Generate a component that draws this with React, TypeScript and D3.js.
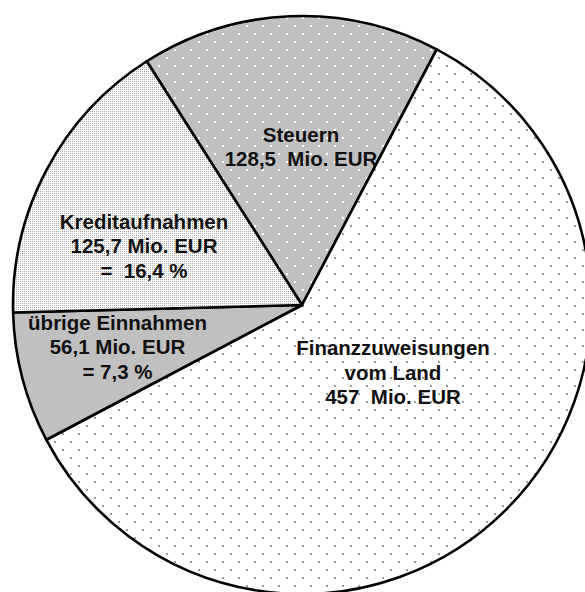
import React from 'react';
import * as d3 from 'd3';

// slices, clockwise starting from "Steuern"
const categories = ['Steuern', 'Finanzzuweisungen vom Land', 'übrige Einnahmen', 'Kreditaufnahmen'];
const values = [128.5, 457, 56.1, 125.7];
const labelLines = [
  ['Steuern', '128,5  Mio. EUR'],
  ['Finanzzuweisungen', 'vom Land', '457  Mio. EUR'],
  ['übrige Einnahmen', '56,1 Mio. EUR', '= 7,3 %'],
  ['Kreditaufnahmen', '125,7 Mio. EUR', '=  16,4 %'],
];

const width = 585;
const height = 592;
const cx = 302;
const cy = 305;
const radius = 289;
const lineHeight = 24.5;

// label anchor (text centre x, first baseline y) relative to the pie centre
const labelOffsets = [
  [-1, -163.5],
  [91, 50],
  [-184.5, 24.5],
  [-158, -76.5],
];

const fills = ['url(#pat-steuern)', 'url(#pat-land)', '#c0c0c0', 'url(#pat-kredit)'];

const App = () => {
  const start = (-32.5 * Math.PI) / 180;
  const pie = d3
    .pie<number>()
    .sort(null)
    .startAngle(start)
    .endAngle(start + 2 * Math.PI);
  const arcs = pie(values);
  const arc = d3.arc<d3.PieArcDatum<number>>().innerRadius(0).outerRadius(radius);

  return (
    <svg
      width={width}
      height={height}
      style={{ position: 'absolute', left: 0, top: 0, background: '#fff' }}
    >
      <defs>
        <pattern id="pat-steuern" width={16} height={16} patternUnits="userSpaceOnUse">
          <rect width={16} height={16} fill="#c0c0c0" />
          <rect x={0} y={0} width={2} height={2} fill="#fff" />
          <rect x={8} y={8} width={2} height={2} fill="#fff" />
        </pattern>
        <pattern id="pat-land" width={16} height={16} patternUnits="userSpaceOnUse">
          <rect width={16} height={16} fill="#fff" />
          <rect x={0} y={0} width={2} height={2} fill="#999" />
          <rect x={8} y={8} width={2} height={2} fill="#999" />
        </pattern>
        <pattern id="pat-kredit" width={2} height={2} patternUnits="userSpaceOnUse">
          <rect width={2} height={2} fill="#fff" />
          <rect x={0} y={0} width={1} height={1} fill="#a8a8a8" />
        </pattern>
      </defs>
      <g transform={`translate(${cx},${cy})`}>
        {arcs.map((d, i) => (
          <path
            key={categories[i]}
            d={arc(d) || ''}
            fill={fills[i]}
            stroke="#000"
            strokeWidth={2.6}
            strokeLinejoin="round"
          />
        ))}
        {labelLines.map((lines, i) => (
          <text
            key={'lbl' + i}
            x={labelOffsets[i][0]}
            y={labelOffsets[i][1]}
            textAnchor="middle"
            fontFamily="'Liberation Sans', Arial, sans-serif"
            fontWeight="bold"
            fontSize={20.5}
            fill="#111"
            style={{ whiteSpace: 'pre' }}
          >
            {lines.map((t, j) => (
              <tspan key={j} x={labelOffsets[i][0]} y={labelOffsets[i][1] + j * lineHeight}>
                {t}
              </tspan>
            ))}
          </text>
        ))}
      </g>
    </svg>
  );
};

export default App;
